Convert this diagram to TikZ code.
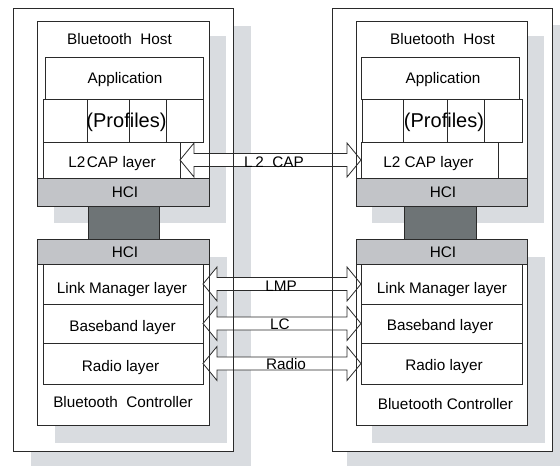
\documentclass[tikz,border=0pt]{standalone}
\usepackage{fontspec}
\setmainfont{Liberation Sans}
\usetikzlibrary{calc}
\definecolor{shad}{HTML}{D9DCE0}
\definecolor{hcig}{HTML}{C2C4C8}
\definecolor{darkg}{HTML}{6E7476}
\definecolor{ln}{HTML}{2A2A2A}
\newcommand\bx[6][]{\node[box,#1,minimum width={(#5)-(#3)},minimum height={(#6)-(#4)}] (#2) at ({((#3)+(#5))/2},{((#4)+(#6))/2})}
\newcommand\fatarrow[2]{\filldraw[fatarr] let \p1=(#1), \p2=(#2) in
  (\x1,\y1) -- (\x1+14pt,\y1+17pt) -- (\x1+14pt,\y1+6.5pt) -- (\x2-14pt,\y1+6.5pt) -- (\x2-14pt,\y1+17pt) -- (\x2,\y1)
  -- (\x2-14pt,\y1-17pt) -- (\x2-14pt,\y1-6.5pt) -- (\x1+14pt,\y1-6.5pt) -- (\x1+14pt,\y1-17pt) -- cycle;}
\begin{document}
\begin{tikzpicture}[x=1pt,y=-1pt,
  every node/.style={inner sep=0pt,outer sep=0pt},
  box/.style={draw=ln,line width=0.8pt,fill=white},
  hcibar/.style={box,fill=hcig},
  darkbar/.style={box,fill=darkg},
  shadowbox/.style={fill=shad,draw=none},
  edgeonly/.style={box,fill=none},
  lbl/.style={font=\fontsize{15.3}{18}\selectfont,text height=10.95pt,text depth=0pt},
  biglbl/.style={font=\fontsize{20}{24}\selectfont,text height=14.3pt,text depth=0pt},
  fatarr/.style={draw=ln,line width=0.8pt,fill=white,line join=miter}]
\useasboundingbox (0,0) rectangle (560,466);
\clip (0,0) rectangle (560,466);
\fill[white] (0,0) rectangle (560,466);
% outer shadows and boxes
\bx[shadowbox]{osl}{31}{26}{251}{472}{};
\bx[shadowbox]{osr}{347}{25}{570}{472}{};
\bx{outl}{13}{8}{233}{451}{};
\bx{outr}{332}{8}{552}{451}{};
% inner shadows
\bx[shadowbox]{hsl}{54}{36}{226}{223}{};
\bx[shadowbox]{hsr}{372}{36}{544}{223}{};
\bx[shadowbox]{csl}{55}{257}{227}{443}{};
\bx[shadowbox]{csr}{372}{257}{545}{443}{};
% host and controller boxes
\bx{hostl}{37}{21}{209}{206}{};
\bx{hostr}{356}{21}{527}{206}{};
\bx{ctrll}{37}{239}{209}{425}{};
\bx{ctrlr}{356}{239}{527}{425}{};
% host internals left
\bx{appl}{45}{57}{203}{99}{};
\bx{pl1}{43}{99}{87}{142}{};
\bx{pl2}{87}{99}{129}{142}{};
\bx{pl3}{129}{99}{166}{142}{};
\bx{pl4}{166}{99}{203}{142}{};
\bx{l2l}{43}{142}{180}{178}{};
\bx[hcibar]{hhl}{37}{178}{209}{206}{};
% host internals right
\bx{appr}{361}{57}{519}{99}{};
\bx{pr1}{362}{99}{403}{142}{};
\bx{pr2}{403}{99}{447}{142}{};
\bx{pr3}{447}{99}{484}{142}{};
\bx{pr4}{484}{99}{522}{142}{};
\bx{l2r}{361}{142}{498}{178}{};
\bx[hcibar]{hhr}{356}{178}{527}{206}{};
% controller internals
\bx[hcibar]{chl}{37}{239}{209}{264}{};
\bx{lml}{43}{264}{203}{304}{};
\bx{bbl}{43}{304}{203}{343}{};
\bx{rdl}{43}{343}{203}{384}{};
\bx[hcibar]{chr}{356}{239}{527}{264}{};
\bx{lmr}{361}{264}{522}{304}{};
\bx{bbr}{361}{304}{522}{343}{};
\bx{rdr}{361}{343}{522}{384}{};
% HCI links
\bx[darkbar]{dkl}{88}{206}{159}{239}{};
\bx[darkbar]{dkr}{404}{206}{476}{239}{};
% arrows
\fatarrow{l2l.east}{l2r.west}
\fatarrow{lml.east}{lmr.west}
\fatarrow{bbl.east}{bbr.west}
\fatarrow{rdl.east}{rdr.west}
% borders redrawn above arrows
\bx[edgeonly]{outl2}{13}{8}{233}{451}{};
\bx[edgeonly]{outr2}{332}{8}{552}{451}{};
\bx[edgeonly]{hostl2}{37}{21}{209}{206}{};
\bx[edgeonly]{hostr2}{356}{21}{527}{206}{};
\bx[edgeonly]{ctrll2}{37}{239}{209}{425}{};
\bx[edgeonly]{ctrlr2}{356}{239}{527}{425}{};
% texts left
\node[lbl] (thl) at (119.5,39) {Bluetooth\ \ Host};
\node[lbl] (tal) at (125,78.5) {Application};
\node[biglbl] (tpl) at (126.5,120.5) {(Profiles)};
\node[lbl] (tll) at (112,162) {L2\kern1.5pt CAP layer};
\node[lbl] (thhl) at (125,192) {HCI};
\node[lbl] (tchl) at (125,251.7) {HCI};
\node[lbl] (tlml) at (122,288) {Link Manager layer};
\node[lbl] (tbbl) at (122.5,326) {Baseband layer};
\node[lbl] (trdl) at (120.5,366) {Radio layer};
\node[lbl] (tcl) at (123,402) {Bluetooth\ \ Controller};
% texts right
\node[lbl] (thr) at (442.5,39) {Bluetooth\ \ Host};
\node[lbl] (tar) at (443,78.5) {Application};
\node[biglbl] (tpr) at (444,120.5) {(Profiles)};
\node[lbl] (tlr) at (428.5,162) {L2 CAP layer};
\node[lbl] (thhr) at (443,192) {HCI};
\node[lbl] (tchr) at (443,252) {HCI};
\node[lbl] (tlmr) at (442,288.5) {Link Manager layer};
\node[lbl] (tbbr) at (440,325.5) {Baseband layer};
\node[lbl] (trdr) at (444,365) {Radio layer};
\node[lbl] (tcr) at (445.5,404.5) {Bluetooth Controller};
% arrow labels
\node[lbl] (al2) at (274,162) {L\,2\ \ CAP};
\node[lbl] (almp) at (281,286) {LMP};
\node[lbl] (alc) at (280,324.5) {LC};
\node[lbl] (ard) at (286,364) {Radio};
\end{tikzpicture}
\end{document}
